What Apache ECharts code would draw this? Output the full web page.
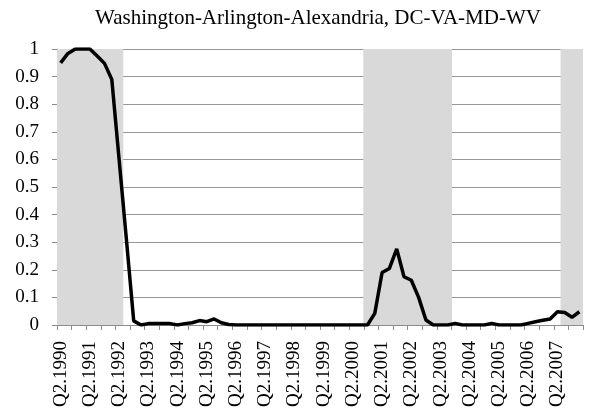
<!DOCTYPE html>
<html>
<head>
<meta charset="utf-8">
<script src="https://cdn.jsdelivr.net/npm/echarts@6/dist/echarts.min.js"></script>
<style>html,body{margin:0;padding:0;background:#fff;}#c{width:589px;height:417px;}</style>
</head>
<body>
<div id="c"></div>
<script>
var titleText = 'Washington-Arlington-Alexandria, DC-VA-MD-WV';

var quarters = [
  'Q2.1990','Q3.1990','Q4.1990',
  'Q1.1991','Q2.1991','Q3.1991','Q4.1991',
  'Q1.1992','Q2.1992','Q3.1992','Q4.1992',
  'Q1.1993','Q2.1993','Q3.1993','Q4.1993',
  'Q1.1994','Q2.1994','Q3.1994','Q4.1994',
  'Q1.1995','Q2.1995','Q3.1995','Q4.1995',
  'Q1.1996','Q2.1996','Q3.1996','Q4.1996',
  'Q1.1997','Q2.1997','Q3.1997','Q4.1997',
  'Q1.1998','Q2.1998','Q3.1998','Q4.1998',
  'Q1.1999','Q2.1999','Q3.1999','Q4.1999',
  'Q1.2000','Q2.2000','Q3.2000','Q4.2000',
  'Q1.2001','Q2.2001','Q3.2001','Q4.2001',
  'Q1.2002','Q2.2002','Q3.2002','Q4.2002',
  'Q1.2003','Q2.2003','Q3.2003','Q4.2003',
  'Q1.2004','Q2.2004','Q3.2004','Q4.2004',
  'Q1.2005','Q2.2005','Q3.2005','Q4.2005',
  'Q1.2006','Q2.2006','Q3.2006','Q4.2006',
  'Q1.2007','Q2.2007','Q3.2007','Q4.2007',
  'Q1.2008'
];

// probability series (one value per quarter)
var probability = [
  0.95, 0.984, 1.0,
  1.0, 1.0, 0.975, 0.948,
  0.89, 0.60, 0.31, 0.015,
  0.0, 0.005, 0.005, 0.005,
  0.005, 0.0, 0.005, 0.008,
  0.016, 0.012, 0.022, 0.008,
  0.002, 0.0, 0.0, 0.0,
  0.0, 0.0, 0.0, 0.0,
  0.0, 0.0, 0.0, 0.0,
  0.0, 0.0, 0.0, 0.0,
  0.0, 0.0, 0.0, 0.0,
  0.042, 0.19, 0.205, 0.276,
  0.175, 0.162, 0.10, 0.018,
  0.0, 0.0, 0.0, 0.006,
  0.0, 0.0, 0.0, 0.0,
  0.006, 0.0, 0.0, 0.0,
  0.0, 0.006, 0.012, 0.017,
  0.022, 0.048, 0.045, 0.028,
  0.048
];

// shaded (recession) quarters: 1 = shaded
var shaded = [
  1, 1, 1,
  1, 1, 1, 1,
  1, 1, 0, 0,
  0, 0, 0, 0,
  0, 0, 0, 0,
  0, 0, 0, 0,
  0, 0, 0, 0,
  0, 0, 0, 0,
  0, 0, 0, 0,
  0, 0, 0, 0,
  0, 0, 0, 1,
  1, 1, 1, 1,
  1, 1, 1, 1,
  1, 1, 1, 0,
  0, 0, 0, 0,
  0, 0, 0, 0,
  0, 0, 0, 0,
  0, 0, 1, 1,
  1
];

var yTicks = { min: 0, max: 1, interval: 0.1 };

var chart = echarts.init(document.getElementById('c'), null, { renderer: 'canvas' });
var font = '"Liberation Serif", "Times New Roman", serif';
chart.setOption({
  animation: false,
  backgroundColor: '#ffffff',
  title: {
    text: titleText,
    left: 313,
    top: 3,
    textAlign: 'center',
    textStyle: { fontFamily: font, fontSize: 21, fontWeight: 'normal', color: '#000' }
  },
  grid: { left: 57, right: 6, top: 49, bottom: 92, containLabel: false },
  xAxis: {
    type: 'category',
    data: quarters,
    boundaryGap: true,
    axisLine: { show: true, lineStyle: { color: '#8c8c8c', width: 1 } },
    axisTick: { show: true, interval: 1, length: 5, inside: false, lineStyle: { color: '#8c8c8c' } },
    axisLabel: { interval: 3, rotate: 90, margin: 16, fontFamily: font, fontSize: 19, color: '#000' },
    splitLine: { show: false }
  },
  yAxis: {
    type: 'value',
    min: yTicks.min,
    max: yTicks.max,
    interval: yTicks.interval,
    axisLine: { show: true, lineStyle: { color: '#8c8c8c', width: 1 } },
    axisTick: { show: true, length: 5, lineStyle: { color: '#8c8c8c' } },
    axisLabel: { margin: 18, fontFamily: font, fontSize: 19, color: '#000' },
    splitLine: { show: true, lineStyle: { color: '#969696', width: 1 } }
  },
  series: [
    {
      type: 'bar',
      data: shaded.map(function (v) { return v ? yTicks.max : '-'; }),
      barWidth: '115%',
      itemStyle: { color: '#d9d9d9' },
      silent: true,
      z: 1
    },
    {
      type: 'line',
      data: probability,
      symbol: 'none',
      lineStyle: { color: '#000', width: 3.5 },
      silent: true,
      z: 3
    }
  ]
});
</script>
</body>
</html>
